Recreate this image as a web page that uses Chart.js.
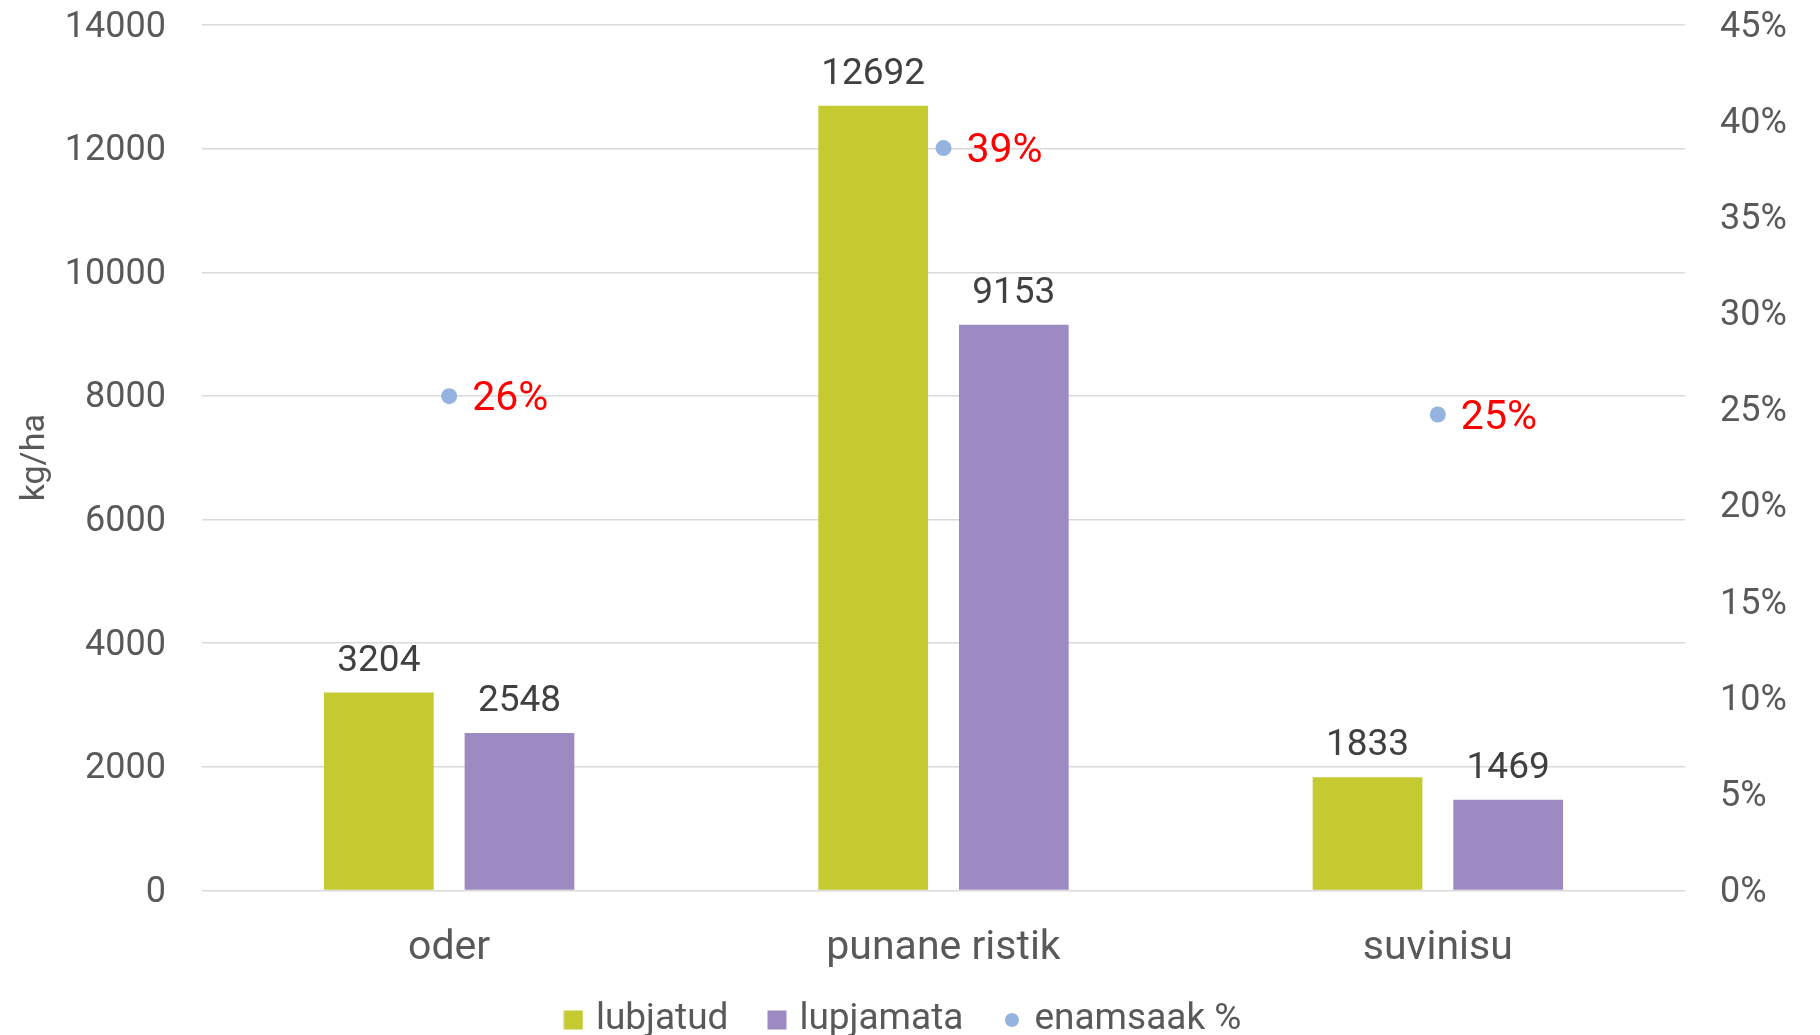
<!DOCTYPE html>
<html>
<head>
<meta charset="utf-8">
<script src="https://cdn.jsdelivr.net/npm/chart.js@4.4.0/dist/chart.umd.min.js"></script>
<style>
  body { margin: 0; background: #fff; }
  #wrap { width: 1820px; height: 1035px; }
</style>
</head>
<body>
<div id="wrap"><canvas id="myChart" width="1820" height="1035"></canvas></div>
<script>
var categories = ["oder", "punane ristik", "suvinisu"];
var lubjatud = [3204, 12692, 1833];
var lupjamata = [2548, 9153, 1469];
var enamsaak = [0.257, 0.386, 0.2475];
var leftTicks = [0, 2000, 4000, 6000, 8000, 10000, 12000, 14000];
var rightTicks = [0, 0.05, 0.1, 0.15, 0.2, 0.25, 0.3, 0.35, 0.4, 0.45];

var green = "#c4ca30";
var purple = "#9d8ac2";
var blue = "#95b3df";
var tickColor = "#595959";
var gridColor = "#d9d9d9";

// small canvases used as legend markers
function marker(color, round) {
  var c = document.createElement("canvas");
  c.width = 20; c.height = 20;
  var g = c.getContext("2d");
  g.fillStyle = color;
  if (round) {
    g.beginPath(); g.arc(10, 10, 7, 0, Math.PI * 2); g.fill();
  } else {
    g.fillRect(0.5, 0.5, 19, 19);
  }
  return c;
}

var valueLabels = {
  id: "valueLabels",
  afterDatasetsDraw: function(chart) {
    var c = chart.ctx;
    c.save();
    chart.data.datasets.forEach(function(ds, i) {
      var meta = chart.getDatasetMeta(i);
      meta.data.forEach(function(el, j) {
        if (ds.type === "line") {
          c.font = "41px Roboto";
          c.fillStyle = "#ff0000";
          c.textAlign = "left";
          c.textBaseline = "middle";
          c.fillText(Math.round(ds.data[j] * 100) + "%", el.x + 23, el.y + 4);
        } else {
          c.font = "37px Roboto";
          c.fillStyle = "#404040";
          c.textAlign = "center";
          c.textBaseline = "middle";
          c.fillText(ds.data[j], el.x, el.y - 31);
        }
      });
    });
    c.restore();
  }
};

var ctx = document.getElementById("myChart");
var myChart = new Chart(ctx, {
  type: "bar",
  data: {
    labels: categories,
    datasets: [
      { label: "lubjatud", data: lubjatud, backgroundColor: green, yAxisID: "y",
        categoryPercentage: 0.569, barPercentage: 0.78, pointStyle: marker(green, false) },
      { label: "lupjamata", data: lupjamata, backgroundColor: purple, yAxisID: "y",
        categoryPercentage: 0.569, barPercentage: 0.78, pointStyle: marker(purple, false) },
      { type: "line", label: "enamsaak %", data: enamsaak, yAxisID: "y1", showLine: false,
        backgroundColor: blue, borderColor: blue, pointRadius: 8, pointHoverRadius: 8,
        pointBorderWidth: 0, pointStyle: "circle" }
    ]
  },
  options: {
    responsive: false,
    animation: false,
    layout: { padding: { top: 25, left: 0, right: 0, bottom: -13.5 } },
    plugins: {
      tooltip: { enabled: false },
      legend: {
        display: true,
        position: "bottom",
        labels: {
          font: { family: "Roboto", size: 37 },
          color: tickColor,
          padding: 17,
          usePointStyle: true,
          pointStyleWidth: 8,
          generateLabels: function(chart) {
            var items = Chart.defaults.plugins.legend.labels.generateLabels(chart);
            items[0].text += "   ";
            items[1].text += "   ";
            items[2].text += " ";
            items[2].pointStyle = marker(blue, true);
            return items;
          }
        }
      }
    },
    scales: {
      x: {
        grid: { display: false },
        border: { display: false },
        ticks: { font: { family: "Roboto", size: 41 }, color: tickColor, padding: 26 },
        afterFit: function(s) { s.height = 94; }
      },
      y: {
        position: "left",
        min: 0, max: 14000,
        afterBuildTicks: function(s) { s.ticks = leftTicks.map(function(v) { return { value: v }; }); },
        grid: { color: gridColor, lineWidth: 1.5, drawTicks: true, tickLength: 36, tickColor: "transparent" },
        border: { display: false },
        ticks: { font: { family: "Roboto", size: 36 }, color: tickColor, padding: 0, labelOffset: 2.5,
                 callback: function(v) { return String(v); } },
        title: { display: true, text: "kg/ha", color: tickColor,
                 font: { family: "Roboto", size: 34 }, padding: { top: 15 } },
        afterFit: function(s) { s.width = 202; }
      },
      y1: {
        position: "right",
        min: 0, max: 0.45,
        afterBuildTicks: function(s) { s.ticks = rightTicks.map(function(v) { return { value: v }; }); },
        grid: { drawOnChartArea: false, drawTicks: true, tickLength: 35, tickColor: "transparent" },
        border: { display: false },
        ticks: {
          font: { family: "Roboto", size: 36 }, color: tickColor, padding: 0, labelOffset: 2.5,
          callback: function(v) { return Math.round(v * 100) + "%"; }
        },
        afterFit: function(s) { s.width = 135; }
      }
    }
  },
  plugins: [valueLabels]
});
</script>
</body>
</html>
